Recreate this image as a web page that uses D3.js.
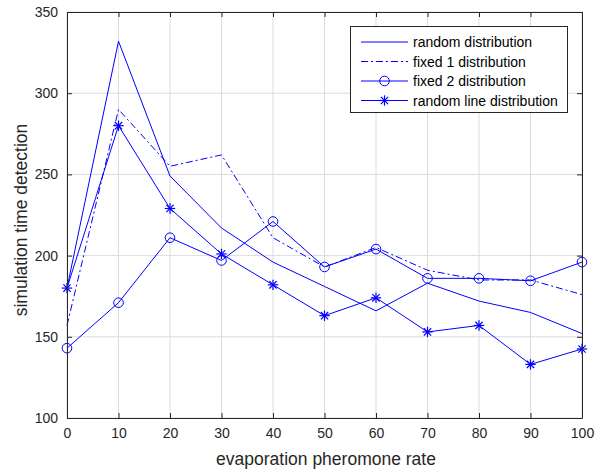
<!DOCTYPE html>
<html>
<head>
<meta charset="utf-8">
<script src="https://cdn.jsdelivr.net/npm/d3@7"></script>
<style>
  body { margin: 0; background: #fff; }
  svg { font-family: "Liberation Sans", Arial, sans-serif; }
</style>
</head>
<body>
<svg id="chart" width="602" height="472"></svg>
<script>
// evaporation pheromone rate
const rates = [0, 10, 20, 30, 40, 50, 60, 70, 80, 90, 100];

// simulation time detection, one list per distribution
const randomDist     = [180, 332, 249, 217, 196, 181, 166, 183, 172, 165, 152];
const fixed1Dist     = [157, 290, 255, 262, 211, 193, 205, 191, 185, 185, 176];
const fixed2Dist     = [143, 171, 211, 197, 221, 193, 204, 186, 186, 184.5, 196];
const randomLineDist = [180, 280, 229, 201, 182, 163, 174, 153, 157, 133, 142.5];

const seriesNames = ["random distribution", "fixed 1 distribution", "fixed 2 distribution", "random line distribution"];
const xTicks = [0, 10, 20, 30, 40, 50, 60, 70, 80, 90, 100];
const yTicks = [100, 150, 200, 250, 300, 350];

function draw_chart() {
  const margin = ({top: 12, right: 20, bottom: 54, left: 67});
  const w = 602, h = 472;
  const svg = d3.select("#chart");
  const blue = "#0000ff";
  const axisColor = "#262626";

  const x = d3.scaleLinear().domain([0, 100]).range([margin.left, w - margin.right]);
  const y = d3.scaleLinear().domain([100, 350]).range([h - margin.bottom, margin.top]);

  //  grid
  svg.append("g").selectAll("line").data(xTicks).join("line")
    .attr("x1", d => x(d)).attr("x2", d => x(d))
    .attr("y1", y(100)).attr("y2", y(350))
    .attr("stroke", "#dcdcdc").attr("stroke-width", 1);
  svg.append("g").selectAll("line").data(yTicks).join("line")
    .attr("x1", x(0)).attr("x2", x(100))
    .attr("y1", d => y(d)).attr("y2", d => y(d))
    .attr("stroke", "#dcdcdc").attr("stroke-width", 1);

  //  series
  const series = [
    {name: seriesNames[0], values: randomDist, dash: null, marker: null},
    {name: seriesNames[1], values: fixed1Dist, dash: "7,3,2,3", marker: null},
    {name: seriesNames[2], values: fixed2Dist, dash: null, marker: "circle"},
    {name: seriesNames[3], values: randomLineDist, dash: null, marker: "star"}
  ];

  const line = d3.line().x((d, i) => x(rates[i])).y(d => y(d));

  function drawMarker(g, type, cx, cy) {
    if (type == "circle") {
      g.append("circle")
        .attr("cx", cx).attr("cy", cy).attr("r", 4.8)
        .attr("fill", "none").attr("stroke", blue).attr("stroke-width", 1);
    } else if (type == "star") {
      const r = 5.2;
      [[-r, 0, r, 0], [0, -r, 0, r], [-r*0.7, -r*0.7, r*0.7, r*0.7], [-r*0.7, r*0.7, r*0.7, -r*0.7]].forEach(s => {
        g.append("line")
          .attr("x1", cx + s[0]).attr("y1", cy + s[1])
          .attr("x2", cx + s[2]).attr("y2", cy + s[3])
          .attr("stroke", blue).attr("stroke-width", 1.2);
      });
    }
  }

  series.forEach(s => {
    svg.append("path")
      .datum(s.values)
      .attr("d", line)
      .attr("fill", "none")
      .attr("stroke", blue)
      .attr("stroke-width", 1)
      .attr("stroke-dasharray", s.dash);
    if (s.marker) {
      const g = svg.append("g");
      s.values.forEach((v, i) => drawMarker(g, s.marker, x(rates[i]), y(v)));
    }
  });

  //  axes (box with inward ticks)
  const xAxis = g => g
    .attr("transform", `translate(0,${y(100)})`)
    .call(d3.axisBottom(x).tickValues(xTicks).tickSizeInner(-5).tickSizeOuter(0).tickPadding(10));
  const yAxis = g => g
    .attr("transform", `translate(${x(0)},0)`)
    .call(d3.axisLeft(y).tickValues(yTicks).tickSizeInner(-5).tickSizeOuter(0).tickPadding(9));
  const xTop = g => g
    .attr("transform", `translate(0,${y(350)})`)
    .call(d3.axisTop(x).tickValues(xTicks).tickSizeInner(-5).tickSizeOuter(0).tickFormat(""));
  const yRight = g => g
    .attr("transform", `translate(${x(100)},0)`)
    .call(d3.axisRight(y).tickValues(yTicks).tickSizeInner(-5).tickSizeOuter(0).tickFormat(""));

  [xAxis, yAxis, xTop, yRight].forEach(a => {
    const g = svg.append("g").style("font-size", "14px").call(a);
    g.select(".domain").attr("stroke", axisColor);
    g.selectAll(".tick line").attr("stroke", axisColor);
    g.selectAll(".tick text").attr("fill", axisColor).style("font-family", "Liberation Sans, Arial, sans-serif");
  });

  //  axis labels
  svg.append("text")
    .attr("x", 326)
    .attr("y", 465)
    .attr("text-anchor", "middle")
    .style("font-size", "17.5px")
    .style("fill", axisColor)
    .text("evaporation pheromone rate");

  svg.append("text")
    .attr("transform", `translate(27,220) rotate(-90)`)
    .attr("text-anchor", "middle")
    .style("font-size", "17.5px")
    .style("fill", axisColor)
    .text("simulation time detection");

  //  legend
  const lg = svg.append("g");
  lg.append("rect")
    .attr("x", 350.5).attr("y", 26.5)
    .attr("width", 217).attr("height", 86)
    .attr("fill", "#fff").attr("stroke", axisColor).attr("stroke-width", 1);
  series.forEach((s, i) => {
    const ly = 42 + i * 19.5;
    lg.append("line")
      .attr("x1", 361).attr("x2", 408)
      .attr("y1", ly).attr("y2", ly)
      .attr("stroke", blue).attr("stroke-width", 1)
      .attr("stroke-dasharray", s.dash);
    if (s.marker) drawMarker(lg, s.marker, 384.5, ly);
    lg.append("text")
      .attr("x", 413).attr("y", ly + 5)
      .style("font-size", "14px")
      .style("fill", "#000")
      .text(s.name);
  });
}

draw_chart();
</script>
</body>
</html>
